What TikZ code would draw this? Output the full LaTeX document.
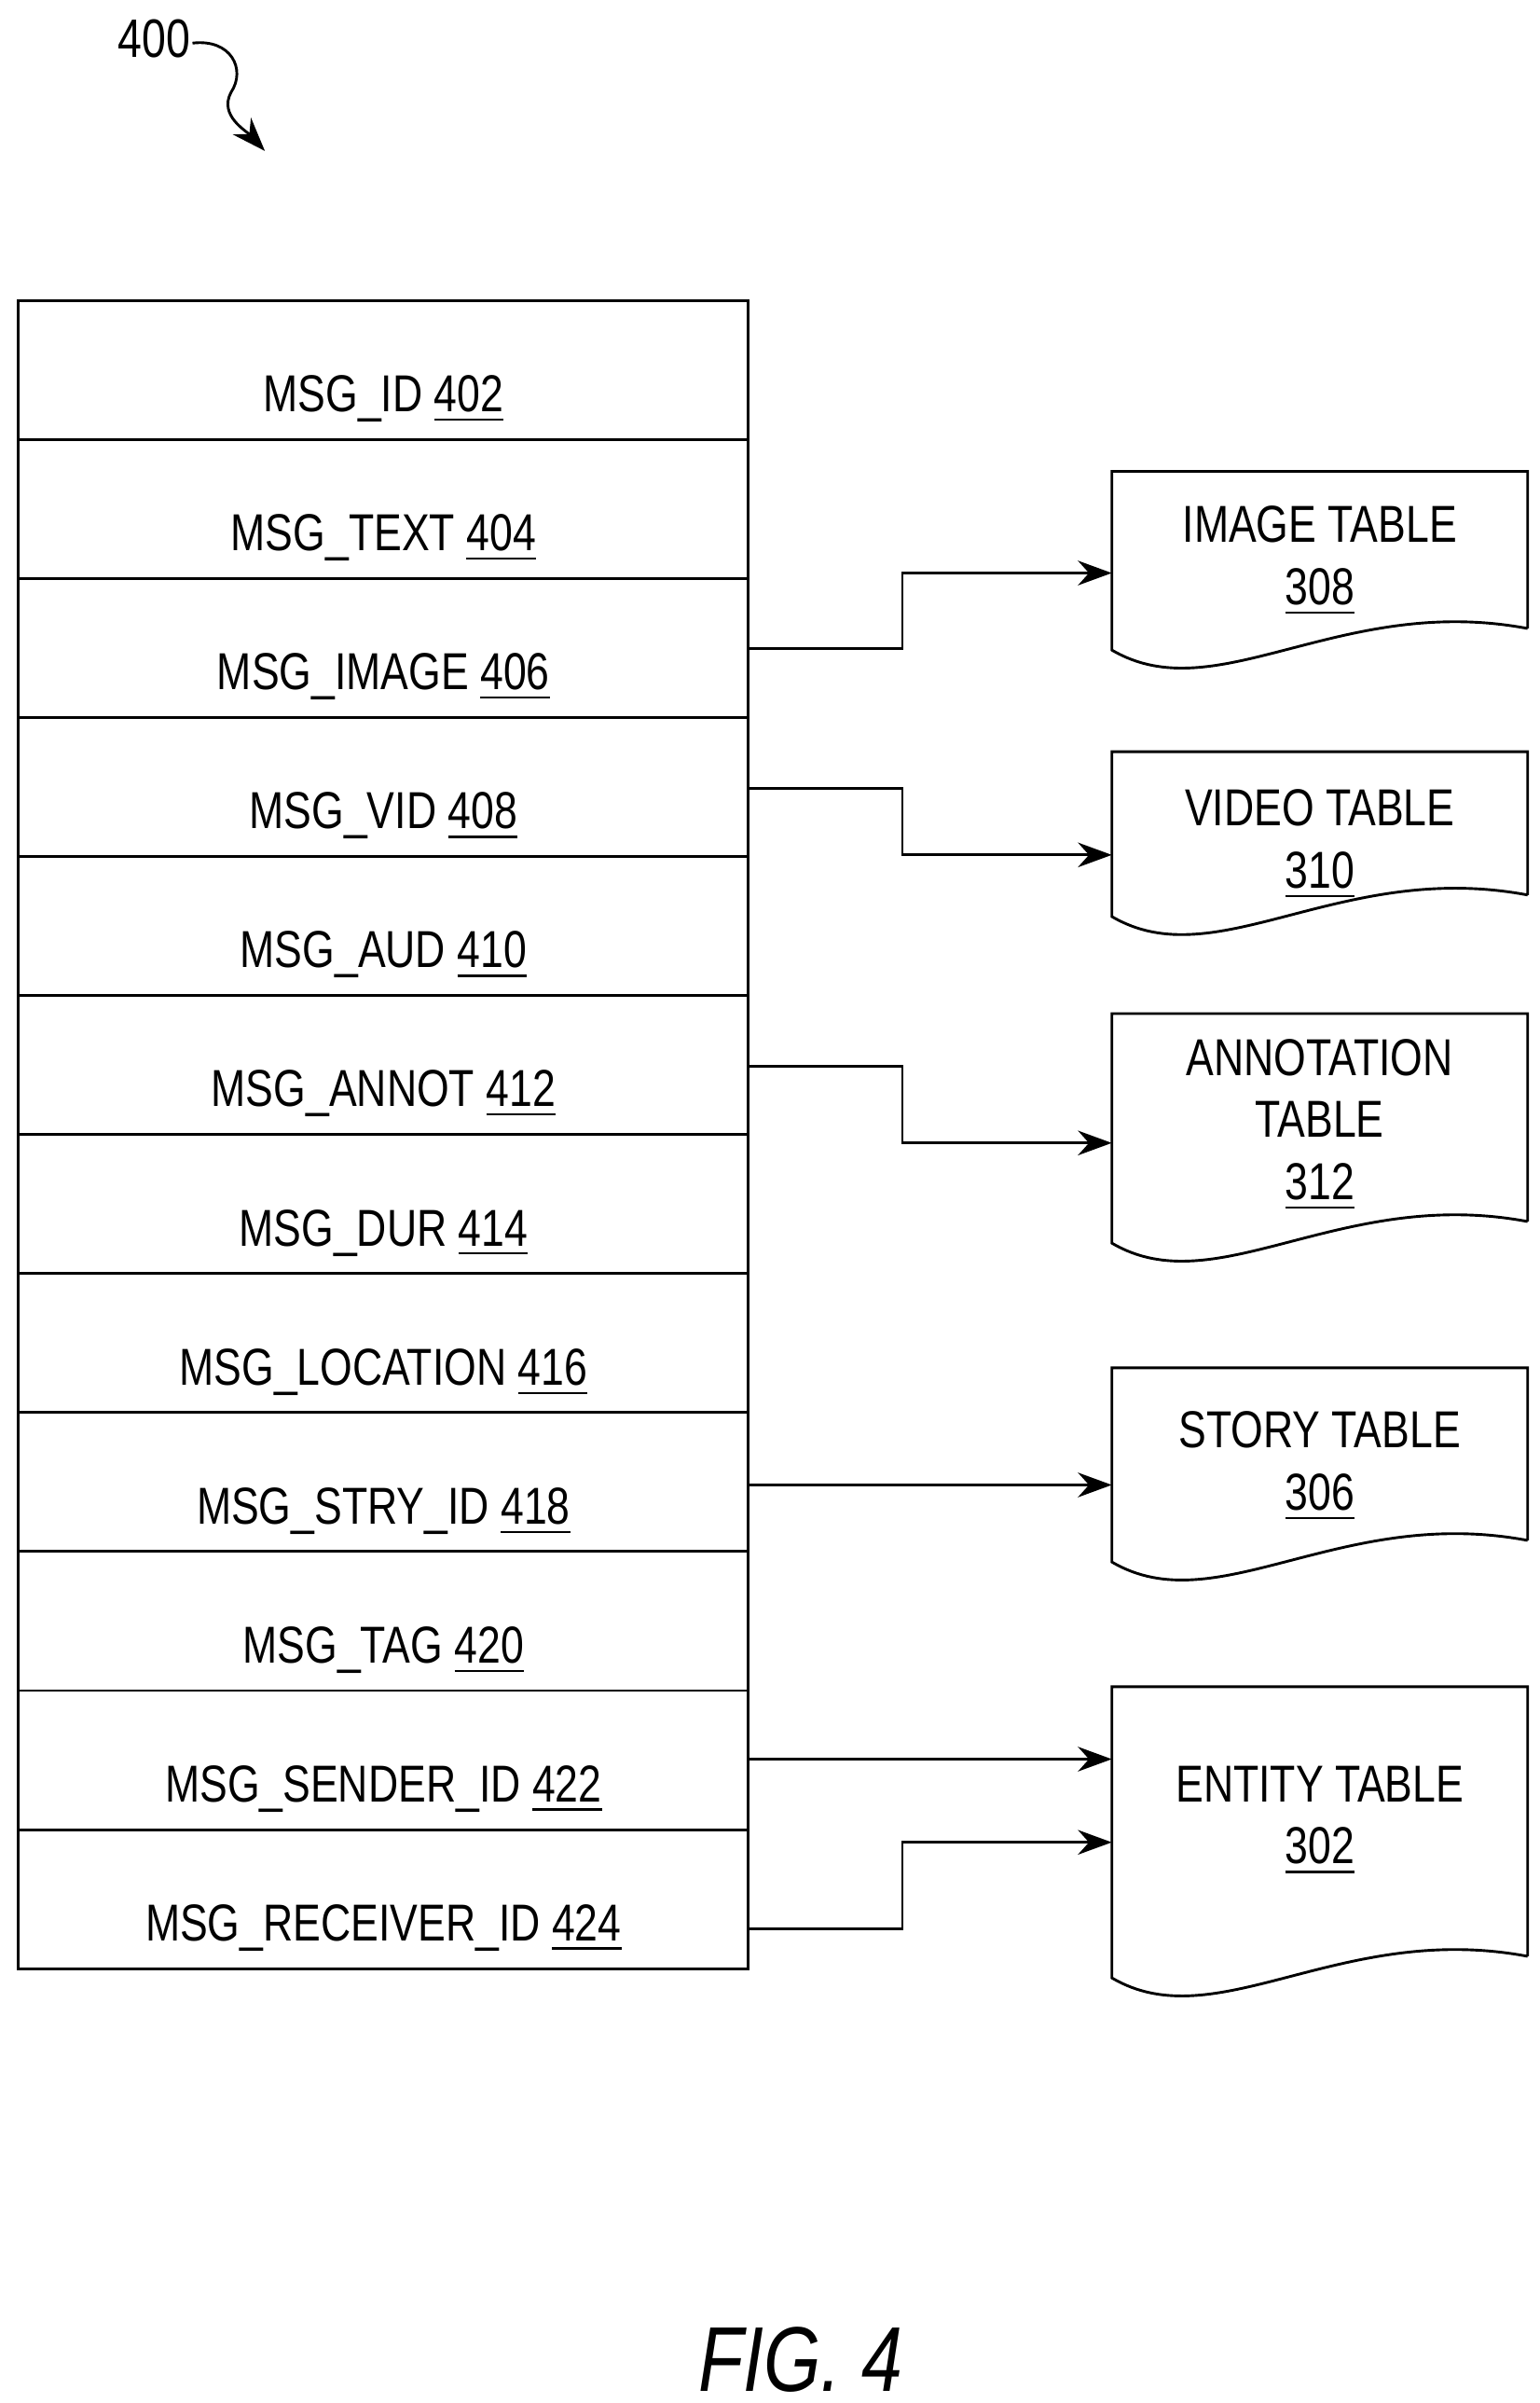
\documentclass[tikz,border=0pt]{standalone}
\usepackage{fontspec}
\setmainfont[FakeStretch=0.8]{Liberation Sans}
\usetikzlibrary{arrows.meta}
\begin{document}
\begin{tikzpicture}[x=0.1mm,y=-0.1mm,
  txt/.style={font=\fontsize{9.6}{11.5}\selectfont,align=center},
  row/.style={draw,line width=0.5pt},
  conn/.style={line width=0.5pt,-{Stealth[length=2.2mm,width=1.6mm]}}]
\useasboundingbox (0,0) rectangle (1000,1560);
\def\u#1{\underline{#1}}
% title
\node[font=\fontsize{10}{12}\selectfont] (t400) at (100,25) {400};
\coordinate (t400e) at (172,98);
\draw[conn] (125,28) .. controls (150,25) and (160,45) .. (150,60) .. controls (142,75) and (160,85) .. (t400e);
% table rows
\foreach \i/\lab [count=\k from 0] in {a/MSG\_ID \u{402},b/MSG\_TEXT \u{404},c/MSG\_IMAGE \u{406},d/MSG\_VID \u{408},e/MSG\_AUD \u{410},f/MSG\_ANNOT \u{412},g/MSG\_DUR \u{414},h/MSG\_LOCATION \u{416},i/MSG\_STRY\_ID \u{418},j/MSG\_TAG \u{420},k/MSG\_SENDER\_ID \u{422},l/MSG\_RECEIVER\_ID \u{424}}{
  \pgfmathsetmacro\yt{195+\k*90.25}
  \pgfmathsetmacro\yb{195+(\k+1)*90.25}
  \draw[row] (12,\yt) rectangle (486,\yb);
  \node[txt,anchor=base] (r\i) at (249,\yb-18) {\lab};
  \coordinate (p\i) at (486,\yt+45);
}
% documents
\newcommand\docshape[5]{% name, top, bottom, text y, text
  \draw[line width=0.5pt] (992,#3-22) -- (992,#2) -- (722,#2) -- (722,#3-8)
    .. controls (790,#3+32) and (870,#3-45) .. (992,#3-22);
  \node[txt,anchor=north] (#1) at (857,#4) {#5};
  \coordinate (#1w) at (722,#2);
}
\docshape{img}{306}{430}{316}{IMAGE TABLE\\\u{308}}
\docshape{vid}{488}{603}{500}{VIDEO TABLE\\\u{310}}
\docshape{ann}{658}{815}{662}{ANNOTATION\\TABLE\\\u{312}}
\docshape{sty}{888}{1022}{904}{STORY TABLE\\\u{306}}
\docshape{ent}{1095}{1292}{1134}{ENTITY TABLE\\\u{302}}
% connectors
\draw[conn] (486,421) -- (586,421) -- (586,372) -- (722,372);
\draw[conn] (486,512) -- (586,512) -- (586,555) -- (722,555);
\draw[conn] (486,692) -- (586,692) -- (586,742) -- (722,742);
\draw[conn] (486,964) -- (722,964);
\draw[conn] (486,1142) -- (722,1142);
\draw[conn] (486,1252) -- (586,1252) -- (586,1196) -- (722,1196);
\node[font=\fontsize{17}{20}\selectfont\itshape] (fig) at (520,1532) {FIG. 4};
\end{tikzpicture}
\end{document}
